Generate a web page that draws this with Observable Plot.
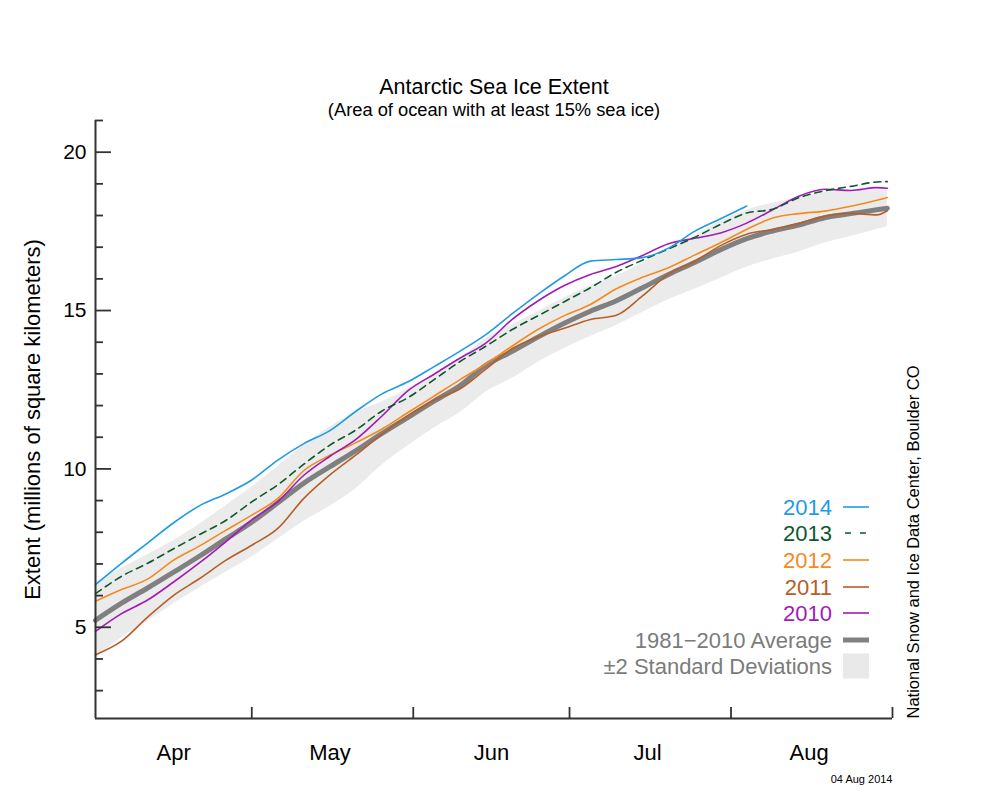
<!DOCTYPE html>
<html>
<head>
<meta charset="utf-8">
<script src="https://cdn.jsdelivr.net/npm/d3@7"></script>
<script src="https://cdn.jsdelivr.net/npm/@observablehq/plot@0.6"></script>
<style>
  body { margin: 0; background: #fff; }
  #wrap { position: relative; width: 1000px; height: 800px; font-family: "Liberation Sans", Arial, Helvetica, sans-serif; }
  #legend { position: absolute; left: 0; top: 0; pointer-events: none; }
</style>
</head>
<body>
<div id="wrap"></div>
<script>
// ---- data (million km²) ----
const dates = [
  "2014-04-01","2014-04-06","2014-04-11","2014-04-16","2014-04-21","2014-04-26",
  "2014-05-01","2014-05-06","2014-05-11","2014-05-16","2014-05-21","2014-05-26","2014-05-31",
  "2014-06-05","2014-06-10","2014-06-15","2014-06-20","2014-06-25","2014-06-30",
  "2014-07-05","2014-07-10","2014-07-15","2014-07-20","2014-07-25","2014-07-30",
  "2014-08-04","2014-08-09","2014-08-14","2014-08-19","2014-08-24","2014-08-29","2014-08-31"
];
const y2014 = [6.35,7.02,7.66,8.30,8.84,9.21,9.65,10.28,10.80,11.21,11.82,12.37,12.75,
  13.23,13.72,14.25,14.90,15.52,16.09,16.56,16.61,16.67,16.97,17.50,17.90,18.30];
const y2013 = [6.06,6.61,7.02,7.48,7.93,8.37,8.96,9.50,10.15,10.75,11.23,11.83,12.25,
  12.82,13.39,13.88,14.40,14.84,15.28,15.72,16.21,16.59,16.95,17.31,17.72,
  18.08,18.20,18.56,18.78,18.92,19.06,19.07];
const y2012 = [5.82,6.19,6.52,7.12,7.57,8.06,8.54,9.07,9.95,10.43,10.83,11.26,11.78,
  12.30,12.82,13.32,13.88,14.41,14.84,15.19,15.69,16.05,16.35,16.75,17.14,
  17.56,17.92,18.06,18.14,18.29,18.48,18.57];
const y2011 = [4.13,4.56,5.32,6.01,6.54,7.11,7.59,8.12,9.07,9.81,10.44,11.10,11.68,
  12.17,12.53,13.16,13.80,14.17,14.44,14.72,14.85,15.46,16.15,16.55,17.05,
  17.41,17.56,17.75,17.98,18.07,18.02,18.15];
const y2010 = [4.87,5.43,5.86,6.43,7.04,7.70,8.39,8.97,9.80,10.40,10.93,11.67,12.47,
  12.99,13.50,13.98,14.72,15.31,15.79,16.14,16.39,16.74,17.11,17.28,17.45,
  17.76,18.18,18.61,18.83,18.79,18.88,18.86];
const average = [5.22,5.76,6.24,6.74,7.25,7.79,8.32,8.93,9.55,10.07,10.58,11.12,11.63,
  12.14,12.63,13.28,13.71,14.17,14.60,14.98,15.31,15.72,16.14,16.52,16.92,
  17.27,17.51,17.70,17.93,18.06,18.18,18.23];
const bandLow = [4.02,4.66,5.19,5.74,6.25,6.74,7.22,7.78,8.35,8.82,9.38,10.12,10.73,
  11.29,11.78,12.43,12.86,13.37,13.80,14.18,14.53,14.94,15.34,15.67,16.02,
  16.37,16.63,16.85,17.13,17.34,17.56,17.65];
const bandHigh = [6.42,6.86,7.29,7.74,8.25,8.84,9.42,10.08,10.75,11.32,11.78,12.12,12.53,
  12.99,13.48,14.13,14.56,14.97,15.40,15.78,16.09,16.50,16.94,17.37,17.82,
  18.17,18.39,18.55,18.73,18.78,18.80,18.81];

const monthNames = ["Apr","May","Jun","Jul","Aug"];
const monthMid = ["2014-04-16","2014-05-16","2014-06-16","2014-07-16","2014-08-16"];
const monthBounds = ["2014-05-01","2014-06-01","2014-07-01","2014-08-01","2014-09-01"];
const xDomain = ["2014-04-01","2014-09-01"];
const yDomain = [2.12, 21];
const majorTicks = [5,10,15,20];
const minorTicks = [3,4,6,7,8,9,11,12,13,14,16,17,18,19,21];

const seriesInfo = [
  {name:"2011", values:y2011, color:"#b55e28", dash:null},
  {name:"2012", values:y2012, color:"#f5891e", dash:null},
  {name:"2010", values:y2010, color:"#a31ab6", dash:null},
  {name:"2013", values:y2013, color:"#0b5a2c", dash:"7,5"},
  {name:"2014", values:y2014, color:"#1f9be6", dash:null}
];
const legendItems = [
  {label:"2014", color:"#1f9be6", kind:"line"},
  {label:"2013", color:"#0b5a2c", kind:"dash"},
  {label:"2012", color:"#f5891e", kind:"line"},
  {label:"2011", color:"#b55e28", kind:"line"},
  {label:"2010", color:"#a31ab6", kind:"line"},
  {label:"1981\u22122010 Average", color:"#7b7b7b", kind:"thick"},
  {label:"\u00b12 Standard Deviations", color:"#7b7b7b", kind:"box"}
];

// ---- build ----
const parse = d3.utcParse("%Y-%m-%d");
const D = dates.map(parse);
const band = D.map((d,i) => ({date:d, lo:bandLow[i], hi:bandHigh[i]}));
const avgRows = average.map((v,i) => ({date:D[i], value:v}));
const font = '"Liberation Sans", Arial, Helvetica, sans-serif';
const axisColor = "#333";
const W = 1000, H = 800, mL = 95, mR = 108, mT = 120, mB = 82;
const fw = W - mL - mR, fh = H - mT - mB;

const marks = [
  Plot.areaY(band, {x:"date", y1:"lo", y2:"hi", fill:"#ebebeb", curve:"monotone-x"}),
  Plot.line(avgRows, {x:"date", y:"value", stroke:"#808080", strokeWidth:5, curve:"monotone-x"})
];
for (const s of seriesInfo) {
  marks.push(Plot.line(s.values.map((v,i)=>({date:D[i], value:v})), {
    x:"date", y:"value", stroke:s.color, strokeWidth:1.6,
    strokeDasharray: s.dash || undefined, curve:"monotone-x"
  }));
}
marks.push(
  Plot.ruleX([parse(xDomain[0])], {stroke:axisColor, strokeWidth:2}),
  Plot.ruleY([yDomain[0]], {stroke:axisColor, strokeWidth:2}),
  Plot.tickY(majorTicks, {y:d=>d, stroke:axisColor, strokeWidth:1.8, insetRight: fw - 16}),
  Plot.tickY(minorTicks, {y:d=>d, stroke:axisColor, strokeWidth:1.8, insetRight: fw - 8}),
  Plot.tickX(monthBounds.map(parse), {x:d=>d, stroke:axisColor, strokeWidth:1.8, insetTop: fh - 11}),
  Plot.text(majorTicks, {y:d=>d, text:d=>String(d), frameAnchor:"left", dx:-9, textAnchor:"end", fontSize:21, fill:"#000"}),
  Plot.text(monthNames, {x:(d,i)=>parse(monthMid[i]), text:d=>d, frameAnchor:"bottom", dy:41, fontSize:22, fill:"#000"}),
  Plot.text(["Antarctic Sea Ice Extent"], {text:d=>d, frameAnchor:"top", dy:-42, fontSize:21.5, fill:"#000"}),
  Plot.text(["(Area of ocean with at least 15% sea ice)"], {text:d=>d, frameAnchor:"top", dy:-18, fontSize:18.3, fill:"#000"}),
  Plot.text(["Extent (millions of square kilometers)"], {text:d=>d, frameAnchor:"left", dx:-63, rotate:-90, textAnchor:"middle", fontSize:22, fill:"#000"}),
  Plot.text(["National Snow and Ice Data Center, Boulder CO"], {text:d=>d, frameAnchor:"bottom-right", dx:26, rotate:-90, textAnchor:"start", fontSize:16.5, fill:"#000"}),
  Plot.text(["04 Aug 2014"], {text:d=>d, frameAnchor:"bottom-right", dy:64, textAnchor:"end", fontSize:11, fill:"#000"})
);

const chart = Plot.plot({
  width: W, height: H,
  marginLeft: mL, marginRight: mR, marginTop: mT, marginBottom: mB,
  style: {fontFamily: font, background: "#fff", overflow: "visible"},
  x: {type:"utc", domain: xDomain.map(parse), axis: null},
  y: {domain: yDomain, axis: null},
  marks
});
const wrap = document.getElementById("wrap");
wrap.appendChild(chart);

// ---- legend overlay ----
const leg = d3.select(wrap).append("svg").attr("id","legend")
  .attr("width", W).attr("height", H)
  .style("font-family", font);
const rowY = [507, 533, 560, 587, 613, 640, 666];
legendItems.forEach((it, i) => {
  const y = rowY[i];
  leg.append("text").attr("x", 832).attr("y", y).attr("text-anchor","end")
    .attr("dominant-baseline","central").attr("font-size", 22).attr("fill", it.color).text(it.label);
  if (it.kind === "box") {
    leg.append("rect").attr("x", 843).attr("y", y - 12.5).attr("width", 26).attr("height", 25).attr("fill", "#e9e9e9");
  } else {
    const l = leg.append("line").attr("x1", 843).attr("x2", 869).attr("y1", y).attr("y2", y)
      .attr("stroke", it.kind === "thick" ? "#808080" : it.color)
      .attr("stroke-width", it.kind === "thick" ? 5 : 1.6);
    if (it.kind === "dash") l.attr("stroke-dasharray", "6,9").attr("x1", 845);
  }
});
</script>
</body>
</html>
